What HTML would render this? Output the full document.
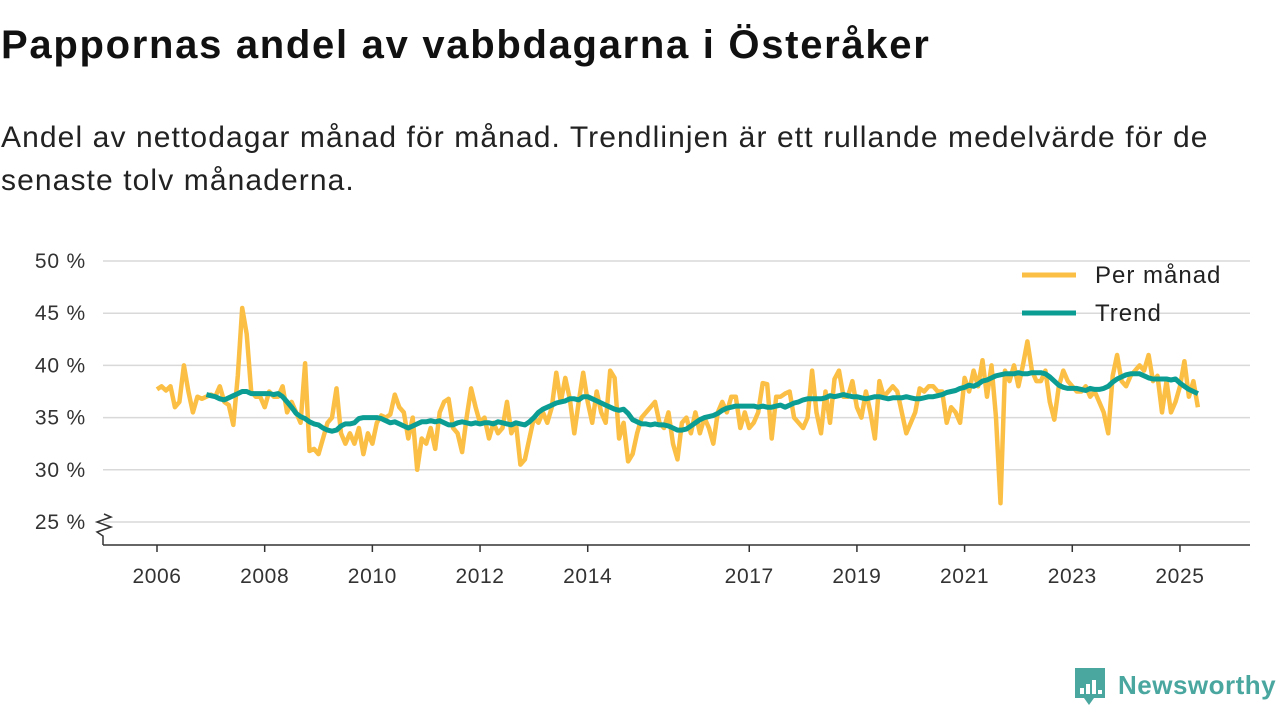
<!DOCTYPE html>
<html><head><meta charset="utf-8"><style>
body{margin:0;width:1280px;height:720px;background:#fff;font-family:"Liberation Sans",sans-serif;overflow:hidden;position:relative;color:#111}
#title{position:absolute;left:1px;top:23px;font-size:40px;font-weight:bold;margin:0;letter-spacing:1.7px}
#sub{position:absolute;left:1px;top:116px;font-size:30px;line-height:43px;width:1250px;color:#222;letter-spacing:1.1px}
svg{position:absolute;left:0;top:0}
</style></head><body>
<h1 id="title">Pappornas andel av vabbdagarna i Österåker</h1>
<div id="sub">Andel av nettodagar månad för månad. Trendlinjen är ett rullande medelvärde för de senaste tolv månaderna.</div>
<svg id="chart" width="1280" height="720"></svg>
<script>
const yTicks=[25,30,35,40,45,50];
const xTickYears=[2006,2008,2010,2012,2014,2017,2019,2021,2023,2025];
const monthlyStart=2006;
const monthly=[
37.7,38.0,37.6,38.0,36.0,36.5,40.0,37.5,35.5,37.0,36.8,37.0,
37.2,37.0,38.0,36.5,36.2,34.3,39.0,45.5,43.0,37.5,37.0,37.0,
36.0,37.5,37.0,37.0,38.0,35.5,36.5,35.5,34.5,40.2,31.8,32.0,
31.5,33.0,34.5,35.0,37.8,33.5,32.5,33.5,32.5,34.0,31.5,33.5,
32.5,34.5,35.2,35.0,35.3,37.2,36.0,35.5,33.0,35.0,30.0,33.0,
32.5,34.0,32.0,35.5,36.5,36.8,34.0,33.5,31.7,35.0,37.8,36.0,
34.5,35.0,33.0,34.5,33.5,34.0,36.5,33.5,34.5,30.5,31.0,33.0,
35.0,34.5,35.5,34.5,36.0,39.3,36.5,38.8,36.8,33.5,36.5,39.3,
36.5,34.5,37.5,35.5,34.5,39.5,38.8,33.0,34.5,30.8,31.5,33.5,
35.0,35.5,36.0,36.5,34.5,34.0,35.5,32.5,31.0,34.5,35.0,33.5,
35.5,33.5,35.0,34.0,32.5,35.5,36.5,35.5,37.0,37.0,34.0,35.5,
34.0,34.5,35.5,38.3,38.2,33.0,37.0,37.0,37.3,37.5,35.0,34.5,
34.0,35.0,39.5,35.5,33.5,37.5,34.5,38.7,39.5,37.0,37.0,38.5,
36.0,35.0,37.5,35.5,33.0,38.5,37.0,37.5,38.0,37.5,35.5,33.5,
34.5,35.5,37.8,37.5,38.0,38.0,37.5,37.5,34.5,36.0,35.5,34.5,
38.8,37.5,39.5,38.0,40.5,37.0,40.0,35.0,26.8,39.5,38.5,40.0,
38.0,40.0,42.3,39.5,38.5,38.5,39.5,36.5,34.8,38.0,39.5,38.5,
38.0,37.5,37.5,38.0,37.0,37.5,36.5,35.5,33.5,39.0,41.0,38.5,
38.0,39.0,39.5,40.0,39.5,41.0,38.5,39.0,35.5,38.5,35.5,36.5,
38.0,40.4,37.0,38.5,36.0];
const trendStartMonth=11;
const trend=[
37.2,
37.1,37.0,36.8,36.7,36.9,37.1,37.3,37.5,37.5,37.3,37.3,37.3,
37.3,37.3,37.2,37.3,37.0,36.5,36.0,35.4,35.1,34.9,34.6,34.4,
34.3,34.0,33.8,33.7,33.8,34.2,34.4,34.4,34.5,34.9,35.0,35.0,
35.0,35.0,34.9,34.7,34.5,34.6,34.4,34.2,34.0,34.2,34.4,34.6,
34.6,34.7,34.6,34.7,34.5,34.3,34.3,34.5,34.6,34.5,34.4,34.5,
34.4,34.5,34.5,34.4,34.6,34.5,34.4,34.3,34.5,34.4,34.3,34.6,
35.0,35.5,35.8,36.0,36.2,36.4,36.5,36.6,36.8,36.8,36.7,37.0,
37.0,36.8,36.6,36.4,36.2,36.0,35.8,35.7,35.8,35.4,34.8,34.6,
34.4,34.4,34.3,34.4,34.3,34.3,34.2,34.0,33.8,33.8,33.9,34.2,
34.5,34.8,35.0,35.1,35.2,35.4,35.7,35.9,36.0,36.1,36.1,36.1,
36.1,36.1,36.0,36.1,36.0,36.0,36.1,36.2,36.0,36.2,36.4,36.5,
36.7,36.8,36.8,36.8,36.8,36.9,37.1,37.0,37.1,37.2,37.1,37.0,
37.0,36.9,36.8,36.9,37.0,37.0,36.9,36.8,36.9,36.9,36.9,37.0,
36.9,36.8,36.8,36.9,37.0,37.0,37.1,37.2,37.4,37.5,37.6,37.8,
37.9,38.1,38.0,38.2,38.5,38.6,38.8,39.0,39.1,39.2,39.2,39.2,
39.3,39.2,39.2,39.3,39.3,39.3,39.2,38.9,38.5,38.1,37.9,37.8,
37.8,37.8,37.7,37.6,37.8,37.7,37.7,37.8,38.0,38.4,38.7,38.9,
39.1,39.2,39.2,39.2,39.0,38.8,38.7,38.7,38.7,38.7,38.6,38.7,
38.3,38.0,37.7,37.5,37.3];

const NS='http://www.w3.org/2000/svg';
const svg=document.getElementById('chart');
const X=yr=>157+(yr-2006)*53.84;
const Y=v=>261+(50-v)*10.44;
function mk(tag,attrs,parent){const e=document.createElementNS(NS,tag);for(const k in attrs)e.setAttribute(k,attrs[k]);(parent||svg).appendChild(e);return e;}

yTicks.forEach(t=>{
  const g=mk('line',{x1:103,x2:1250,y1:Y(t),y2:Y(t),stroke:'#d9d9d9','stroke-width':1.5});
  
  
  const l=mk('text',{x:86,y:Y(t)+7,'text-anchor':'end','font-size':21,'letter-spacing':0.8,fill:'#333','font-family':'Liberation Sans, sans-serif'});
  l.textContent=t+' %';
  
  
});
const ax=mk('line',{x1:103,x2:1250,y1:545,y2:545,stroke:'#333','stroke-width':1.5});


const zz=mk('path',{d:'M103 545 L103 536 L97 532 L111 527 L97 522 L111 517 L104 514',fill:'none',stroke:'#333','stroke-width':1.5});


xTickYears.forEach(yr=>{
  const tk=mk('line',{x1:X(yr),x2:X(yr),y1:545,y2:552,stroke:'#333','stroke-width':1.5});
  
  
  const l=mk('text',{x:X(yr),y:583,'text-anchor':'middle','font-size':21,'letter-spacing':0.6,fill:'#333','font-family':'Liberation Sans, sans-serif'});
  l.textContent=yr;
  
  
});
function pathOf(arr,startIdx){return arr.map((v,i)=>(i?'L':'M')+X(monthlyStart+(startIdx+i)/12).toFixed(1)+' '+Y(v).toFixed(1)).join(' ');}
const m=mk('path',{d:pathOf(monthly,0),fill:'none',stroke:'#fbbf45','stroke-width':4.5,'stroke-linejoin':'round'});


const t=mk('path',{d:pathOf(trend,trendStartMonth),fill:'none',stroke:'#0b9d93','stroke-width':5,'stroke-linejoin':'round'});



[['Per månad','#fbbf45',275],['Trend','#0b9d93',313]].forEach(([n,c,y])=>{
  const g=mk('g',{});
  
  
  mk('line',{x1:1022,x2:1076,y1:y,y2:y,stroke:c,'stroke-width':5},g);
  const tx=mk('text',{x:1095,y:y+8,'font-size':24,'letter-spacing':1,fill:'#222','font-family':'Liberation Sans, sans-serif'},g);
  tx.textContent=n;
});

const logo=mk('g',{});


mk('path',{d:'M1075 668 H1105 V698 H1094 L1089 705 L1084 698 H1075 Z',fill:'#4aa7a0'},logo);
[[1080,688,4,6],[1086,684,4,10],[1092,680,4,14],[1098,690,4,4]].forEach(r=>mk('rect',{x:r[0],y:r[1],width:r[2],height:r[3],fill:'#fff'},logo));
const lt=mk('text',{x:1118,y:694,'font-size':26,'font-weight':'bold','letter-spacing':0.5,fill:'#4aa7a0','font-family':'Liberation Sans, sans-serif'},logo);
lt.textContent='Newsworthy';
</script>
</body></html>
